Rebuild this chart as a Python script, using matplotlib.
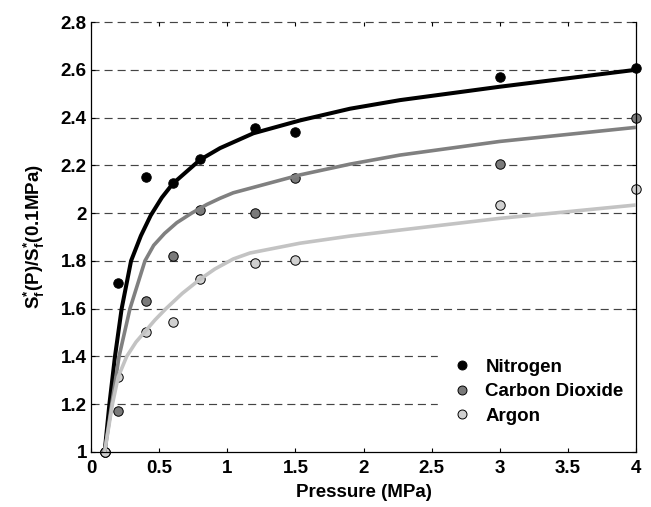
import matplotlib
matplotlib.use("Agg")
import matplotlib.pyplot as plt
from matplotlib.ticker import FuncFormatter

plt.rcParams['font.family'] = ['Liberation Sans', 'DejaVu Sans']
plt.rcParams['font.weight'] = 'bold'
plt.rcParams['mathtext.fontset'] = 'custom'
plt.rcParams['mathtext.rm'] = 'Liberation Sans:bold'
plt.rcParams['mathtext.bf'] = 'Liberation Sans:bold'
plt.rcParams['mathtext.it'] = 'Liberation Sans:bold'
plt.rcParams['lines.scale_dashes'] = False

# Measured sorption ratios
pressure = [0.1, 0.2, 0.4, 0.6, 0.8, 1.2, 1.5, 3.0, 4.0]
nitrogen = [1.0, 1.706, 2.152, 2.127, 2.225, 2.355, 2.338, 2.568, 2.606]
carbon_dioxide = [1.0, 1.172, 1.631, 1.822, 2.013, 1.999, 2.148, 2.206, 2.398]
argon = [1.0, 1.315, 1.501, 1.545, 1.723, 1.790, 1.804, 2.033, 2.100]

# Fitted curves
n2_fit_p = [0.1, 0.135, 0.176, 0.225, 0.294, 0.366, 0.438, 0.52, 0.6, 0.8,
            0.947, 1.191, 1.534, 1.901, 2.268, 3.0, 4.0]
n2_fit = [1.0, 1.2, 1.4, 1.6, 1.8, 1.905, 1.99, 2.065, 2.123, 2.223,
          2.272, 2.334, 2.388, 2.437, 2.473, 2.529, 2.60]
co2_fit_p = [0.1, 0.152, 0.206, 0.286, 0.396, 0.46, 0.54, 0.63, 0.739, 0.85,
             0.947, 1.044, 1.534, 1.901, 2.268, 3.0, 4.0]
co2_fit = [1.0, 1.2, 1.4, 1.6, 1.8, 1.865, 1.915, 1.96, 2.0, 2.036,
           2.062, 2.085, 2.160, 2.205, 2.243, 2.30, 2.359]
ar_fit_p = [0.1, 0.157, 0.2, 0.262, 0.33, 0.396, 0.47, 0.55, 0.67, 0.8, 0.909,
            1.044, 1.167, 1.534, 1.901, 2.268, 3.0, 4.0]
ar_fit = [1.0, 1.2, 1.315, 1.4, 1.46, 1.504, 1.553, 1.6, 1.664, 1.723, 1.766,
          1.808, 1.833, 1.874, 1.904, 1.929, 1.978, 2.034]

x_ticks = [0, 0.5, 1, 1.5, 2, 2.5, 3, 3.5, 4]
y_ticks = [1, 1.2, 1.4, 1.6, 1.8, 2, 2.2, 2.4, 2.6, 2.8]

FS = 13.5

fig = plt.figure(figsize=(6.51, 5.07), dpi=100)
ax = fig.add_axes([91 / 651, 55 / 507, 545 / 651, 430 / 507])
ax.set_xlim(0, 4)
ax.set_ylim(1, 2.8)

# dashed horizontal grid
for yv in y_ticks[1:]:
    ax.axhline(yv, color='#444444', lw=0.85, ls=(0, (5.8, 3.6)),
               zorder=0.5, clip_on=False)

series = [
    (nitrogen, n2_fit_p, n2_fit, 'Nitrogen', 'black', 'black', 2.9),
    (carbon_dioxide, co2_fit_p, co2_fit, 'Carbon Dioxide', '#7a7a7a', '#808080', 2.6),
    (argon, ar_fit_p, ar_fit, 'Argon', '#d0d0d0', '#c3c3c3', 2.6),
]
handles = []
for vals, fp, fv, label, face, lcol, lw in series:
    h, = ax.plot(pressure, vals, 'o', ms=6.8, mfc=face, mec='black', mew=0.7,
                 ls='none', zorder=2, clip_on=False, label=label)
    handles.append(h)
    ax.plot(fp, fv, '-', color=lcol, lw=lw, zorder=3,
            solid_joinstyle='round', solid_capstyle='butt')

ax.spines['top'].set_visible(False)
for s in ['left', 'bottom', 'right']:
    ax.spines[s].set_linewidth(0.9)
    ax.spines[s].set_zorder(2.6)

ax.set_xticks(x_ticks)
ax.set_yticks(y_ticks)
fmt = FuncFormatter(lambda v, p: '%g' % v)
ax.xaxis.set_major_formatter(fmt)
ax.yaxis.set_major_formatter(fmt)
ax.tick_params(axis='both', direction='in', length=3, width=0.8,
               top=True, right=True, labelsize=FS)
ax.tick_params(axis='x', pad=6)
ax.tick_params(axis='y', pad=3)

ax.set_xlabel('Pressure (MPa)', fontsize=FS, fontweight='bold', labelpad=5)
ax.set_ylabel(r'S$_{\mathbf{f}}^{\mathbf{*}}$(P)/S$_{\mathbf{f}}^{\mathbf{*}}$(0.1MPa)',
              fontsize=FS, fontweight='bold')
ax.yaxis.set_label_coords(-0.08, 0.5)

leg = ax.legend(handles=handles, loc='upper left',
                bbox_to_anchor=((438 - 91) / 545, 0.252),
                borderaxespad=0, frameon=True, fancybox=False,
                facecolor='white', edgecolor='white', framealpha=1,
                fontsize=FS, handlelength=1.0, handletextpad=0.73,
                borderpad=0.8, labelspacing=0.4, markerscale=0.95)
leg.set_zorder(2.4)

fig.savefig('out.png', dpi=100)
